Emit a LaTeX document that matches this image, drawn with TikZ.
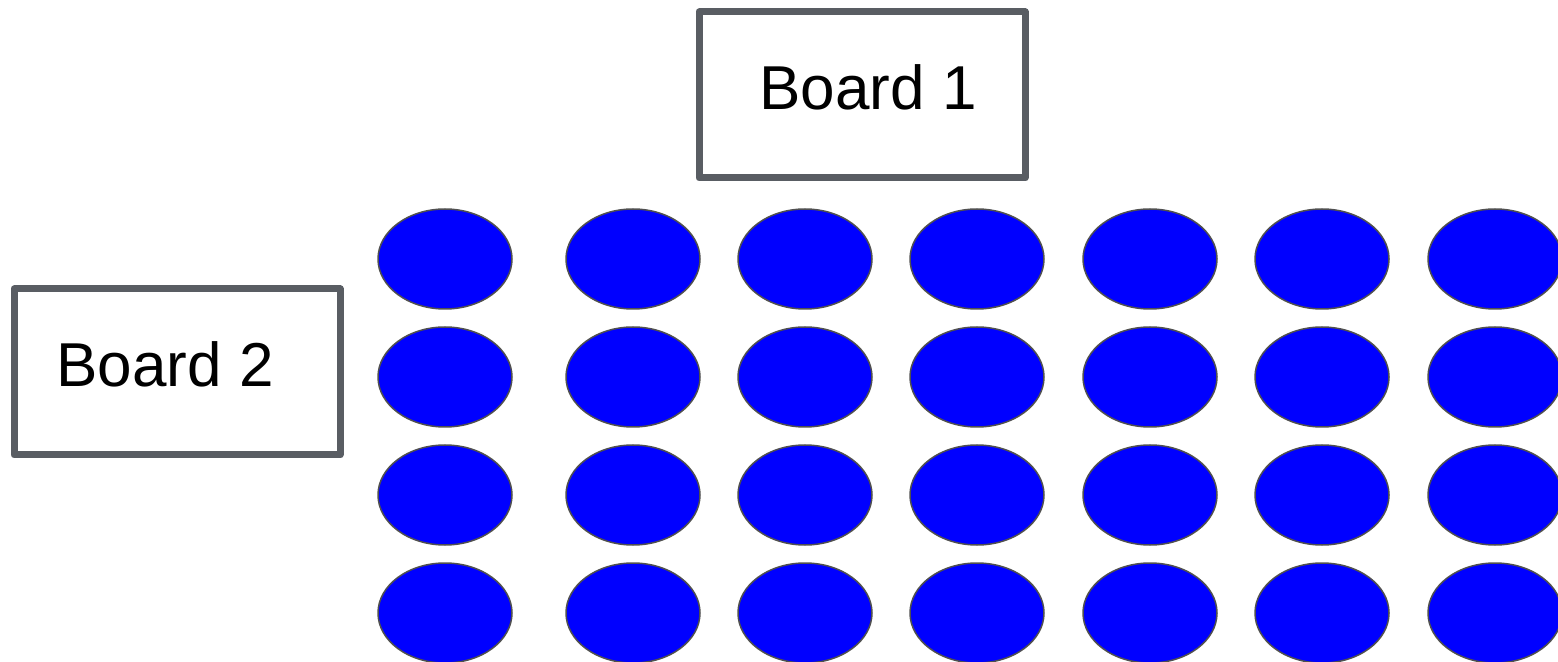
\documentclass[tikz,border=0pt]{standalone}
\usepackage{fontspec}
\setmainfont{Liberation Sans}
\usetikzlibrary{shapes.geometric}
\definecolor{boxgray}{HTML}{595D63}
\definecolor{edgegray}{HTML}{505050}
\tikzset{
  board/.style={draw=boxgray, line width=3.5pt, line join=round, rectangle, inner sep=0pt},
  lbl/.style={font=\fontsize{31}{36}\selectfont, inner sep=0pt, text=black},
  seat/.style={ellipse, draw=edgegray, line width=0.75pt, fill={rgb,255:red,0;green,0;blue,255},
    minimum width=67pt, minimum height=50pt, inner sep=0pt}
}
\begin{document}
\begin{tikzpicture}[x=0.5pt,y=-0.5pt]
\useasboundingbox (0,0) rectangle (1558,662);
\clip (0,0) rectangle (1558,662);
\node[board, minimum width=163pt, minimum height=83pt] (b1) at (862,95) {};
\node[lbl] (t1) at (868,87) {Board 1};
\node[board, minimum width=163pt, minimum height=83pt] (b2) at (177,372) {};
\node[lbl] (t2) at (165,364) {Board 2};
\foreach \x [count=\i] in {445,633,805,977,1150,1322,1495}{
  \foreach \y [count=\j] in {259,377,495,613}{
    \node[seat] (s\i-\j) at (\x,\y) {};
  }
}
\end{tikzpicture}
\end{document}
